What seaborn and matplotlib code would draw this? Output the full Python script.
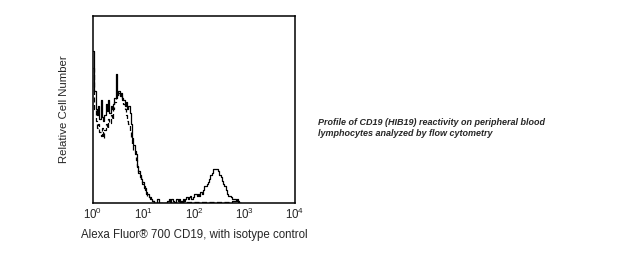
import numpy as np
import pandas as pd
import matplotlib
matplotlib.use("Agg")
import matplotlib.pyplot as plt
import seaborn as sns
from matplotlib.ticker import LogLocator, LogFormatterSciNotation, NullLocator

sns.set_style("white")
plt.rcParams['font.family'] = ['Liberation Sans', 'DejaVu Sans']

# histogram bins on log10 scale, starting at 10^0, width 0.025 decade
bin_width = 0.025
cd19 = [81, 60, 50, 47, 52, 45, 55, 46, 44, 47,          # 0.000-0.225
        53, 49, 55, 48, 52, 50, 53, 56, 69, 58,          # 0.250-0.475
        60, 57, 59, 56, 55, 52, 54, 50, 52, 48,          # 0.500-0.725
        42, 35, 31, 28, 26, 20, 17, 15, 13, 11,          # 0.750-0.975
        9, 8, 6, 5, 3, 3, 2, 1, 0, 0,                    # 1.000-1.225
        0, 2, 0, 0, 0, 0, 0, 0, 0, 1,                    # 1.250-1.475
        2, 0, 2, 1, 0, 0, 2, 1, 2, 0,                    # 1.500-1.725
        1, 2, 1, 2, 3, 2, 3, 4, 2, 3,                    # 1.750-1.975
        5, 5, 4, 5, 4, 6, 5, 7, 9, 9,                    # 2.000-2.225
        10, 11, 13, 15, 16, 18, 18, 18, 18, 17,          # 2.250-2.475
        15, 14, 12, 10, 9, 7, 5, 4, 4, 3,                # 2.500-2.725
        2, 2, 2, 1, 2, 1, 0]                             # 2.750-2.900
isotype = [72, 50, 44, 40, 42, 38, 36, 40, 35, 39,
           42, 40, 45, 43, 47, 45, 50, 54, 56, 58,
           59, 58, 57, 55, 53, 50, 47, 44, 42, 38,
           34, 31, 28, 26, 23, 19, 16, 14, 12, 10,
           8, 7, 5, 4, 3, 2, 1, 1, 0, 0,
           0, 0, 0, 0, 0, 0, 0, 0, 0, 0,
           0, 0, 0, 0, 0.5, 0.5, 0.5, 0.5, 0.5, 0.5,
           0.5, 0.5, 0.5, 0.5, 0.5, 0.5, 0.5, 0.5, 0.5, 0.5,
           0.5, 0.5, 0.5, 0.5, 0.5, 0.5, 0.5, 0.5, 0.5, 0.5,
           0.5, 0.5, 0.5, 0.5, 0.5, 0.5, 0.5, 0.5, 0.5, 0.5,
           0.5, 0.5, 0.5, 0.5, 0.5, 0.5, 0.5, 0.5, 0.5, 0.5,
           1, 1, 1, 1, 1, 0.5, 0]

def step_frame(vals):
    n = len(vals)
    edges = np.arange(n + 1) * bin_width
    y = list(vals) + [0]
    return pd.DataFrame({"x": 10 ** edges, "y": y})

fig = plt.figure(figsize=(6.34, 2.57), dpi=100)
ax = fig.add_axes([0.1467, 0.210, 0.3186, 0.728])

d1 = step_frame(cd19)
d2 = step_frame(isotype)
sns.lineplot(data=d2, x="x", y="y", ax=ax, color="black", lw=0.9, drawstyle="steps-post",
             linestyle=(0, (4, 2)), estimator=None, sort=False)
sns.lineplot(data=d1, x="x", y="y", ax=ax, color="black", lw=0.9, drawstyle="steps-post",
             estimator=None, sort=False)

ax.set_xscale("log")
ax.set_xlim(1, 1e4)
ax.set_ylim(0, 100)
ax.xaxis.set_major_locator(LogLocator(base=10, numticks=10))
ax.xaxis.set_major_formatter(LogFormatterSciNotation())
ax.xaxis.set_minor_locator(NullLocator())
ax.set_yticks([])
ax.tick_params(axis="x", length=0, labelsize=8.3, pad=3)
for s in ax.spines.values():
    s.set_linewidth(1.1)
    s.set_color("black")

ax.set_xlabel("Alexa Fluor® 700 CD19, with isotype control", fontsize=8.3, labelpad=5)
ax.set_ylabel("Relative Cell Number", fontsize=8.2, labelpad=17)

fig.text(318 / 634, 1 - 128 / 257, "Profile of CD19 (HIB19) reactivity on peripheral blood\nlymphocytes analyzed by flow cytometry",
         fontsize=6.5, fontweight="bold", fontstyle="italic", va="center", ha="left", linespacing=1.3)

fig.savefig("out.png", dpi=100)
